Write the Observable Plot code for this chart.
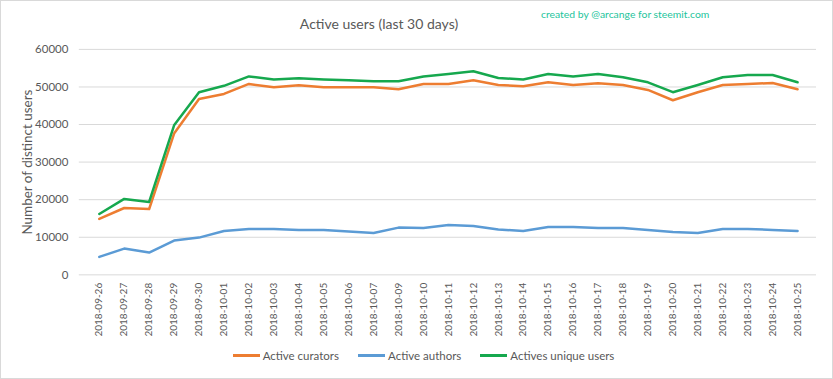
<!DOCTYPE html>
<html>
<head>
<meta charset="utf-8">
<script src="https://cdn.jsdelivr.net/npm/d3@7"></script>
<script src="https://cdn.jsdelivr.net/npm/@observablehq/plot@0.6"></script>
<style>
  html, body { margin: 0; padding: 0; background: #fff; }
  #wrap { position: relative; width: 833px; height: 379px; box-sizing: border-box; border: 1px solid #d9d9d9; overflow: hidden; font-family: Lato, "Open Sans", sans-serif; }
  #wrap svg { position: absolute; left: -1px; top: -1px; }
  #title { position: absolute; left: 0; width: 756px; top: 14px; text-align: center; font-size: 14px; color: #595959; }
  #credit { position: absolute; left: 540px; top: 7px; font-size: 10.4px; color: #25c49c; white-space: nowrap; }
  #legend { position: absolute; left: 6px; width: 833px; top: 348px; display: flex; justify-content: center; gap: 19px; font-size: 11.5px; color: #595959; }
  .item { display: flex; align-items: center; }
  .sw { display: inline-block; width: 27px; height: 3px; margin-right: 3px; }
</style>
</head>
<body>
<div id="wrap">
  <div id="title">Active users (last 30 days)</div>
  <div id="credit">created by @arcange for steemit.com</div>
  <div id="legend"></div>
</div>
<script>
const dates = ["2018-09-26","2018-09-27","2018-09-28","2018-09-29","2018-09-30","2018-10-01","2018-10-02","2018-10-03","2018-10-04","2018-10-05","2018-10-06","2018-10-07","2018-10-09","2018-10-10","2018-10-11","2018-10-12","2018-10-13","2018-10-14","2018-10-15","2018-10-16","2018-10-17","2018-10-18","2018-10-19","2018-10-20","2018-10-21","2018-10-22","2018-10-23","2018-10-24","2018-10-25"];
const curators = [14870,17790,17520,37600,46820,48140,50800,49900,50450,49900,49900,49900,49380,50800,50800,51770,50530,50180,51240,50530,50980,50530,49200,46460,48600,50530,50800,51060,49380];
const authors = [4780,6990,5930,9115,9910,11680,12210,12210,11950,11950,11500,11150,12570,12480,13275,13010,12040,11680,12740,12740,12480,12480,11950,11420,11150,12210,12210,11950,11680];
const uniqueUsers = [16200,20200,19400,39800,48600,50300,52800,52000,52300,52000,51770,51500,51500,52800,53450,54160,52400,52000,53450,52800,53450,52570,51240,48600,50530,52570,53190,53190,51240];
const seriesNames = ["Active curators","Active authors","Actives unique users"];
const seriesColors = ["#ed7d31","#5b9bd5","#16a84e"];
const yTicks = [0,10000,20000,30000,40000,50000,60000];

const seriesValues = [curators, authors, uniqueUsers];
const data = seriesNames.flatMap((name, i) => dates.map((d, j) => ({date: d, value: seriesValues[i][j], series: name})));

const font = "Lato, 'Open Sans', sans-serif";
const chart = Plot.plot({
  width: 833,
  height: 379,
  marginTop: 49,
  marginBottom: 104,
  marginLeft: 79,
  marginRight: 15,
  style: {fontFamily: font, fontSize: "11px", color: "#595959", background: "transparent", overflow: "visible"},
  x: {type: "point", domain: dates, padding: 0.5, label: null},
  y: {domain: [0, 60000], label: null},
  color: {domain: seriesNames, range: seriesColors},
  marks: [
    Plot.ruleY(yTicks, {stroke: "#d9d9d9", strokeWidth: 1}),
    Plot.axisY({ticks: yTicks, tickSize: 0, tickPadding: 11, tickFormat: d => String(d), label: null, fontSize: 11.5}),
    Plot.axisY({ticks: [], tickSize: 0, label: "Number of distinct users", labelAnchor: "center", labelArrow: "none", labelOffset: 57, fontSize: 13.5}),
    Plot.axisX({tickRotate: -90, tickSize: 0, tickPadding: 8, label: null, fontSize: 10}),
    Plot.line(data, {x: "date", y: "value", stroke: "series", z: "series", strokeWidth: 2.5, curve: "linear"})
  ]
});
document.getElementById("wrap").appendChild(chart);

const legend = document.getElementById("legend");
seriesNames.forEach((n, i) => {
  const it = document.createElement("div");
  it.className = "item";
  const sw = document.createElement("span");
  sw.className = "sw";
  sw.style.background = seriesColors[i];
  it.appendChild(sw);
  it.appendChild(document.createTextNode(n));
  legend.appendChild(it);
});
</script>
</body>
</html>
